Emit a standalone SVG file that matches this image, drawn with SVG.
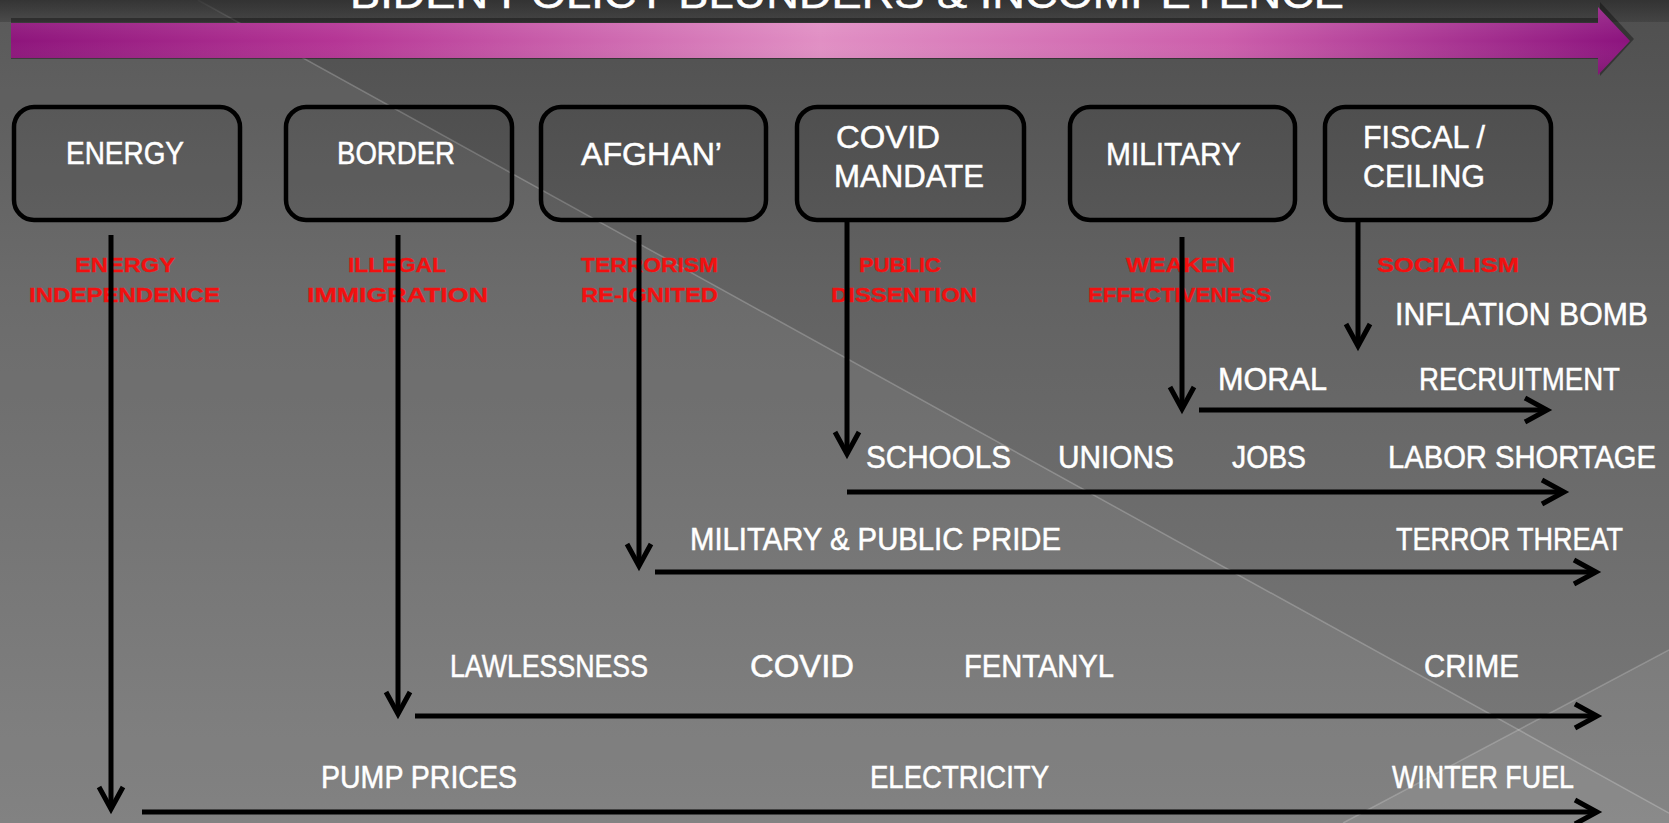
<svg xmlns="http://www.w3.org/2000/svg" width="1669" height="823" viewBox="0 0 1669 823">
  <defs>
    <linearGradient id="bg" x1="0" y1="0" x2="0" y2="1">
      <stop offset="0" stop-color="#4f4f4f"/>
      <stop offset="0.35" stop-color="#626262"/>
      <stop offset="1" stop-color="#7b7b7b"/>
    </linearGradient>
    <linearGradient id="bar" x1="0" y1="0" x2="1" y2="0">
      <stop offset="0" stop-color="#8e157c"/>
      <stop offset="0.2" stop-color="#b53595"/>
      <stop offset="0.5" stop-color="#e18fc4"/>
      <stop offset="0.75" stop-color="#cc5eab"/>
      <stop offset="1" stop-color="#8c137e"/>
    </linearGradient>
    <linearGradient id="barShade" x1="0" y1="0" x2="0" y2="1">
      <stop offset="0" stop-color="#fff" stop-opacity="0.12"/>
      <stop offset="0.5" stop-color="#fff" stop-opacity="0"/>
      <stop offset="1" stop-color="#000" stop-opacity="0.12"/>
    </linearGradient>
    <linearGradient id="topShade" x1="0" y1="0" x2="0" y2="1">
      <stop offset="0" stop-color="#2e2e2e" stop-opacity="0.85"/>
      <stop offset="1" stop-color="#2e2e2e" stop-opacity="0.35"/>
    </linearGradient>
    <marker id="arr" markerUnits="userSpaceOnUse" viewBox="-26 -16 30 32" refX="0" refY="0" markerWidth="30" markerHeight="32" orient="auto" overflow="visible">
      <path d="M-22,-12 L0,0 L-22,12" fill="none" stroke="#000" stroke-width="5" stroke-linejoin="miter"/>
    </marker>
    <style>
      .box { fill: #000; fill-opacity: 0.07; stroke: #000; stroke-width: 4.5; }
      .bl { font-family: "Liberation Sans", Arial, sans-serif; font-size: 31px; fill: #fff; stroke: #fff; stroke-width: 0.5; }
      .red { font-family: "Liberation Sans", Arial, sans-serif; font-size: 21px; font-weight: bold; fill: #f21010; stroke: #f21010; stroke-width: 0.3; }
      .lbl { font-family: "Liberation Sans", Arial, sans-serif; font-size: 31px; fill: #fff; stroke: #fff; stroke-width: 0.5; }
      .conn { fill: none; stroke: #000; stroke-width: 5; marker-end: url(#arr); }
    </style>
  </defs>

  <!-- background -->
  <rect x="0" y="0" width="1669" height="823" fill="url(#bg)"/>
  <polygon points="0,0 198,0 1669,813 1669,823 0,823" fill="#fff" fill-opacity="0.06"/>
  <polygon points="1669,650 1343,823 1669,823" fill="#fff" fill-opacity="0.07"/>
  <line x1="198" y1="0" x2="1669" y2="813" stroke="#fff" stroke-opacity="0.22" stroke-width="1.5"/>
  <line x1="1669" y1="650" x2="1343" y2="823" stroke="#fff" stroke-opacity="0.2" stroke-width="1.5"/>
  <rect x="0" y="0" width="1669" height="22" fill="url(#topShade)"/>

  <!-- title (cropped at top, as in the reference) -->
  <text x="350" y="8" class="bl" style="font-size:40px" textLength="994" lengthAdjust="spacingAndGlyphs">BIDEN POLICY BLUNDERS &amp; INCOMPETENCE</text>

  <!-- timeline bar -->
  <g id="timeline-bar">
    <path d="M11,20 H1600 V4 L1634,41 L1600,78 V61 H11 Z" fill="#000" fill-opacity="0.35" transform="translate(0,-2)"/>
    <path d="M11,23 H1598 V7 L1630,41 L1598,75 V58 H11 Z" fill="url(#bar)"/>
    <path d="M11,23 H1598 V7 L1630,41 L1598,75 V58 H11 Z" fill="url(#barShade)"/>
  </g>

  <!-- nodes -->
  <g id="node-energy">
    <rect class="box" x="14" y="107" width="226" height="113" rx="20"/>
    <text class="bl" x="66" y="164" textLength="118" lengthAdjust="spacingAndGlyphs">ENERGY</text>
  </g>
  <g id="node-border">
    <rect class="box" x="286" y="107" width="226" height="113" rx="20"/>
    <text class="bl" x="337" y="164" textLength="118" lengthAdjust="spacingAndGlyphs">BORDER</text>
  </g>
  <g id="node-afghan">
    <rect class="box" x="541" y="107" width="225" height="113" rx="20"/>
    <text class="bl" x="581" y="165" textLength="141" lengthAdjust="spacingAndGlyphs">AFGHAN’</text>
  </g>
  <g id="node-covid">
    <rect class="box" x="797" y="107" width="227" height="113" rx="20"/>
    <text class="bl" x="836" y="148" textLength="104" lengthAdjust="spacingAndGlyphs">COVID</text>
    <text class="bl" x="834" y="187" textLength="150" lengthAdjust="spacingAndGlyphs">MANDATE</text>
  </g>
  <g id="node-military">
    <rect class="box" x="1070" y="107" width="225" height="113" rx="20"/>
    <text class="bl" x="1106" y="165" textLength="135" lengthAdjust="spacingAndGlyphs">MILITARY</text>
  </g>
  <g id="node-fiscal">
    <rect class="box" x="1325" y="107" width="226" height="113" rx="20"/>
    <text class="bl" x="1363" y="148" textLength="122" lengthAdjust="spacingAndGlyphs">FISCAL /</text>
    <text class="bl" x="1363" y="187" textLength="122" lengthAdjust="spacingAndGlyphs">CEILING</text>
  </g>

  <!-- red annotations -->
  <g id="annotations">
    <text class="red" x="75" y="272" textLength="100" lengthAdjust="spacingAndGlyphs">ENERGY</text>
    <text class="red" x="29" y="302" textLength="191" lengthAdjust="spacingAndGlyphs">INDEPENDENCE</text>
    <text class="red" x="348" y="272" textLength="98" lengthAdjust="spacingAndGlyphs">ILLEGAL</text>
    <text class="red" x="307" y="302" textLength="181" lengthAdjust="spacingAndGlyphs">IMMIGRATION</text>
    <text class="red" x="581" y="272" textLength="137" lengthAdjust="spacingAndGlyphs">TERRORISM</text>
    <text class="red" x="581" y="302" textLength="137" lengthAdjust="spacingAndGlyphs">RE-IGNITED</text>
    <text class="red" x="859" y="272" textLength="82" lengthAdjust="spacingAndGlyphs">PUBLIC</text>
    <text class="red" x="831" y="302" textLength="146" lengthAdjust="spacingAndGlyphs">DISSENTION</text>
    <text class="red" x="1126" y="272" textLength="109" lengthAdjust="spacingAndGlyphs">WEAKEN</text>
    <text class="red" x="1088" y="302" textLength="183" lengthAdjust="spacingAndGlyphs">EFFECTIVENESS</text>
    <text class="red" x="1377" y="272" textLength="142" lengthAdjust="spacingAndGlyphs">SOCIALISM</text>
  </g>

  <!-- connectors -->
  <g id="connectors">
    <path class="conn" d="M111,235 V809"/>
    <path class="conn" d="M142,812 H1597"/>
    <path class="conn" d="M398,235 V714"/>
    <path class="conn" d="M415,716 H1597"/>
    <path class="conn" d="M639,235 V566"/>
    <path class="conn" d="M655,572 H1596"/>
    <path class="conn" d="M847,220 V454"/>
    <path class="conn" d="M847,492 H1564"/>
    <path class="conn" d="M1182,237 V409"/>
    <path class="conn" d="M1199,410 H1547"/>
    <path class="conn" d="M1358,222 V346"/>
  </g>

  <!-- outcome labels -->
  <g id="outcomes">
    <text class="lbl" x="1395" y="325" textLength="253" lengthAdjust="spacingAndGlyphs">INFLATION BOMB</text>
    <text class="lbl" x="1218" y="390" textLength="109" lengthAdjust="spacingAndGlyphs">MORAL</text>
    <text class="lbl" x="1419" y="390" textLength="201" lengthAdjust="spacingAndGlyphs">RECRUITMENT</text>
    <text class="lbl" x="866" y="468" textLength="145" lengthAdjust="spacingAndGlyphs">SCHOOLS</text>
    <text class="lbl" x="1058" y="468" textLength="116" lengthAdjust="spacingAndGlyphs">UNIONS</text>
    <text class="lbl" x="1232" y="468" textLength="74" lengthAdjust="spacingAndGlyphs">JOBS</text>
    <text class="lbl" x="1388" y="468" textLength="268" lengthAdjust="spacingAndGlyphs">LABOR SHORTAGE</text>
    <text class="lbl" x="690" y="550" textLength="371" lengthAdjust="spacingAndGlyphs">MILITARY &amp; PUBLIC PRIDE</text>
    <text class="lbl" x="1396" y="550" textLength="227" lengthAdjust="spacingAndGlyphs">TERROR THREAT</text>
    <text class="lbl" x="450" y="677" textLength="198" lengthAdjust="spacingAndGlyphs">LAWLESSNESS</text>
    <text class="lbl" x="750" y="677" textLength="104" lengthAdjust="spacingAndGlyphs">COVID</text>
    <text class="lbl" x="964" y="677" textLength="150" lengthAdjust="spacingAndGlyphs">FENTANYL</text>
    <text class="lbl" x="1424" y="677" textLength="95" lengthAdjust="spacingAndGlyphs">CRIME</text>
    <text class="lbl" x="321" y="788" textLength="196" lengthAdjust="spacingAndGlyphs">PUMP PRICES</text>
    <text class="lbl" x="870" y="788" textLength="179" lengthAdjust="spacingAndGlyphs">ELECTRICITY</text>
    <text class="lbl" x="1392" y="788" textLength="182" lengthAdjust="spacingAndGlyphs">WINTER FUEL</text>
  </g>
</svg>
